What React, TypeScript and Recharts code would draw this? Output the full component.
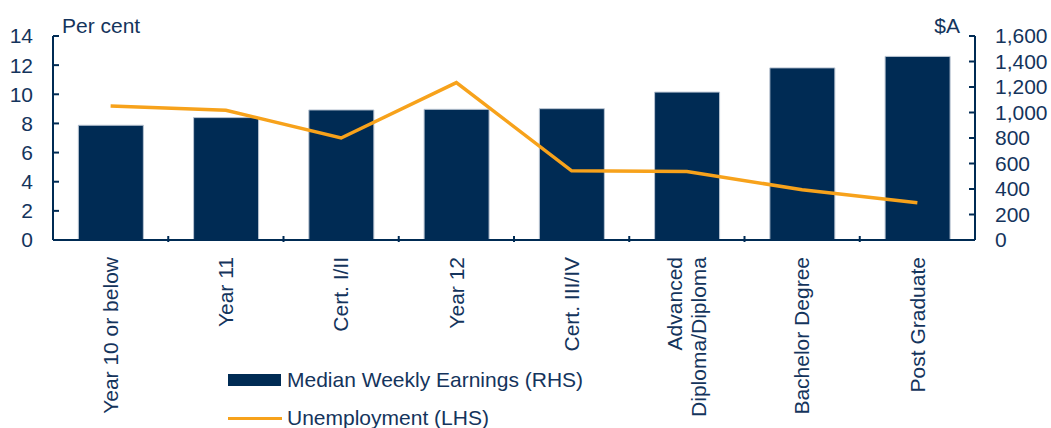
import React from 'react'
import {
  ComposedChart,
  Bar,
  Line,
  XAxis,
  YAxis,
  Legend,
} from 'recharts'

// Education levels (x categories)
const categories = [
  'Year 10 or below',
  'Year 11',
  'Cert. I/II',
  'Year 12',
  'Cert. III/IV',
  'Advanced\nDiploma/Diploma',
  'Bachelor Degree',
  'Post Graduate',
]
// Median weekly earnings, $A (RHS)
const earnings = [900, 960, 1020, 1025, 1030, 1160, 1350, 1440]
// Unemployment rate, per cent (LHS)
const unemployment = [9.2, 8.9, 7.0, 10.8, 4.75, 4.7, 3.45, 2.55]

const leftTicks = [0, 2, 4, 6, 8, 10, 12, 14]
const rightTicks = [0, 200, 400, 600, 800, 1000, 1200, 1400, 1600]

const NAVY = '#002b54'
const TEXT = '#14345c'
const ORANGE = '#f7a21b'
const FONT = '"Liberation Sans", Arial, sans-serif'

const W = 1051
const H = 428
const LEFT_W = 53
const RIGHT_W = 76
const step = (W - LEFT_W - RIGHT_W) / categories.length

const data = categories.map((name, i) => ({
  name,
  earnings: earnings[i],
  unemployment: unemployment[i],
}))

// rotated category label plus an upward tick at the right boundary of the band
const CategoryTick = (props: any) => {
  const { x, y, payload, index } = props
  const lines: string[] = String(payload.value).split('\n')
  const first = lines.length === 1 ? '0.35em' : `${0.35 - (lines.length - 1) * 0.575}em`
  return (
    <g>
      {index < categories.length - 1 && (
        <line x1={x + step / 2} x2={x + step / 2} y1={y} y2={y - 6} stroke={NAVY} strokeWidth={2} />
      )}
      <text
        transform={`translate(${x},${y + 15}) rotate(-90)`}
        textAnchor="end"
        fill={TEXT}
        fontSize={21}
        fontFamily={FONT}
      >
        {lines.map((l, i) => (
          <tspan key={i} x={0} dy={i === 0 ? first : '1.15em'}>
            {l}
          </tspan>
        ))}
      </text>
    </g>
  )
}

const renderLegend = () => (
  <div style={{ fontFamily: FONT, fontSize: 21, color: TEXT }}>
    <div style={{ display: 'flex', alignItems: 'center', height: 38 }}>
      <span style={{ display: 'inline-block', width: 53, height: 12, background: NAVY, marginRight: 6 }} />
      Median Weekly Earnings (RHS)
    </div>
    <div style={{ display: 'flex', alignItems: 'center', height: 38 }}>
      <span style={{ display: 'inline-block', width: 54, height: 3, background: ORANGE, marginRight: 5 }} />
      Unemployment (LHS)
    </div>
  </div>
)

export default function App() {
  return (
    <div style={{ position: 'absolute', left: 0, top: 0, width: W, height: H, overflow: 'hidden', background: '#fff' }}>
      <ComposedChart
        width={W}
        height={H}
        data={data}
        margin={{ top: 36, right: 0, bottom: 0, left: 0 }}
        barCategoryGap="22%"
      >
        <XAxis
          dataKey="name"
          height={H - 240}
          interval={0}
          tickSize={0}
          tickLine={false}
          axisLine={{ stroke: NAVY, strokeWidth: 2 }}
          tick={<CategoryTick />}
        />
        <YAxis
          yAxisId="left"
          orientation="left"
          width={LEFT_W}
          domain={[0, 14]}
          ticks={leftTicks}
          interval={0}
          tickSize={-6}
          tickMargin={26}
          axisLine={{ stroke: NAVY, strokeWidth: 2 }}
          tickLine={{ stroke: NAVY, strokeWidth: 2 }}
          tick={{ fill: TEXT, fontSize: 21, fontFamily: FONT }}
          label={{
            content: (p: any) => (
              <text x={p.viewBox.x + p.viewBox.width + 9} y={p.viewBox.y - 3} fill={TEXT} fontSize={21} fontFamily={FONT}>
                Per cent
              </text>
            ),
          }}
        />
        <YAxis
          yAxisId="right"
          orientation="right"
          width={RIGHT_W}
          domain={[0, 1600]}
          ticks={rightTicks}
          interval={0}
          tickSize={-6}
          tickMargin={26}
          tickFormatter={(v: number) => v.toLocaleString('en-US')}
          axisLine={{ stroke: NAVY, strokeWidth: 2 }}
          tickLine={{ stroke: NAVY, strokeWidth: 2 }}
          tick={{ fill: TEXT, fontSize: 21, fontFamily: FONT }}
          label={{
            content: (p: any) => (
              <text x={p.viewBox.x - 15} y={p.viewBox.y - 3} textAnchor="end" fill={TEXT} fontSize={21} fontFamily={FONT}>
                $A
              </text>
            ),
          }}
        />
        <Legend
          layout="vertical"
          align="center"
          verticalAlign="middle"
          wrapperStyle={{ left: 228, top: 361, width: 'auto' }}
          content={renderLegend}
        />
        <Bar
          yAxisId="right"
          dataKey="earnings"
          name="Median Weekly Earnings (RHS)"
          fill={NAVY}
          stroke="#b9c4d2"
          strokeWidth={1}
          isAnimationActive={false}
        />
        <Line
          yAxisId="left"
          dataKey="unemployment"
          name="Unemployment (LHS)"
          type="linear"
          stroke={ORANGE}
          strokeWidth={3.5}
          dot={false}
          activeDot={false}
          isAnimationActive={false}
        />
      </ComposedChart>
    </div>
  )
}
